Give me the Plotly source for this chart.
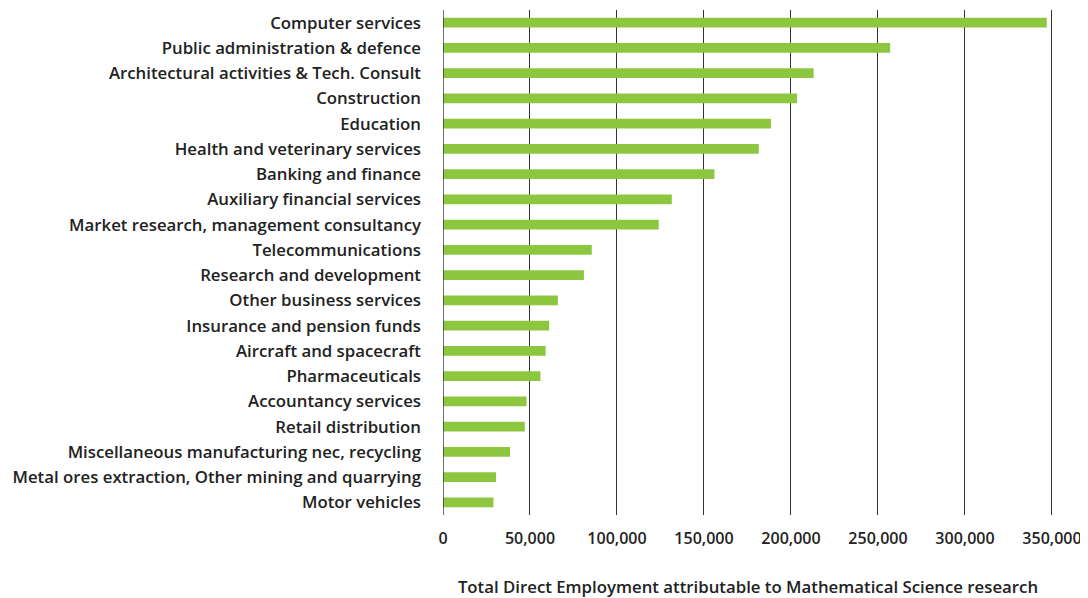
import plotly.graph_objects as go

categories = [
    "Computer services",
    "Public administration & defence",
    "Architectural activities & Tech. Consult",
    "Construction",
    "Education",
    "Health and veterinary services",
    "Banking and finance",
    "Auxiliary financial services",
    "Market research, management consultancy",
    "Telecommunications",
    "Research and development",
    "Other business services",
    "Insurance and pension funds",
    "Aircraft and spacecraft",
    "Pharmaceuticals",
    "Accountancy services",
    "Retail distribution",
    "Miscellaneous manufacturing nec, recycling",
    "Metal ores extraction, Other mining and quarrying",
    "Motor vehicles",
]
employment = [347000, 257000, 213000, 203500, 188500, 181500, 156000, 131500,
              124000, 85500, 81000, 66000, 61000, 59000, 56000, 48000, 47000,
              38500, 30500, 29000]
tick_values = [0, 50000, 100000, 150000, 200000, 250000, 300000, 350000]
tick_labels = ["0", "50,000", "100,000", "150,000", "200,000", "250,000", "300,000", "350,000"]
x_title = "Total Direct Employment attributable to Mathematical Science research"

fig = go.Figure(go.Bar(
    x=employment, y=categories, orientation="h",
    marker=dict(color="#8DC63F", line=dict(width=0)),
    width=0.38,
))

font_family = "Open Sans"
fig.update_layout(
    width=1080, height=590,
    margin=dict(l=435, r=35, t=2, b=83),
    paper_bgcolor="white", plot_bgcolor="white",
    showlegend=False,
    font=dict(family=font_family, color="#222222", size=16),
)
fig.update_xaxes(
    range=[0, 350600],
    tickvals=tick_values, ticktext=tick_labels,
    showgrid=True, gridcolor="#333333", gridwidth=1.4,
    zeroline=False, showline=False, ticks="",
    ticklabelstandoff=12, ticklabeloverflow="allow",
    tickfont=dict(family=font_family, size=16, color="#222222", weight=600),
    title=dict(text=x_title, standoff=33,
               font=dict(family=font_family, size=16.8, color="#222222", weight=600)),
)
fig.update_yaxes(
    range=[19.5, -0.5],
    showgrid=False, zeroline=False, showline=False, ticks="",
    ticklabelstandoff=21,
    tickfont=dict(family=font_family, size=16.8, color="#222222", weight=600),
)
fig.add_vline(x=0, line=dict(color="#333333", width=1.4), layer="above")

fig.write_html("out.html")
